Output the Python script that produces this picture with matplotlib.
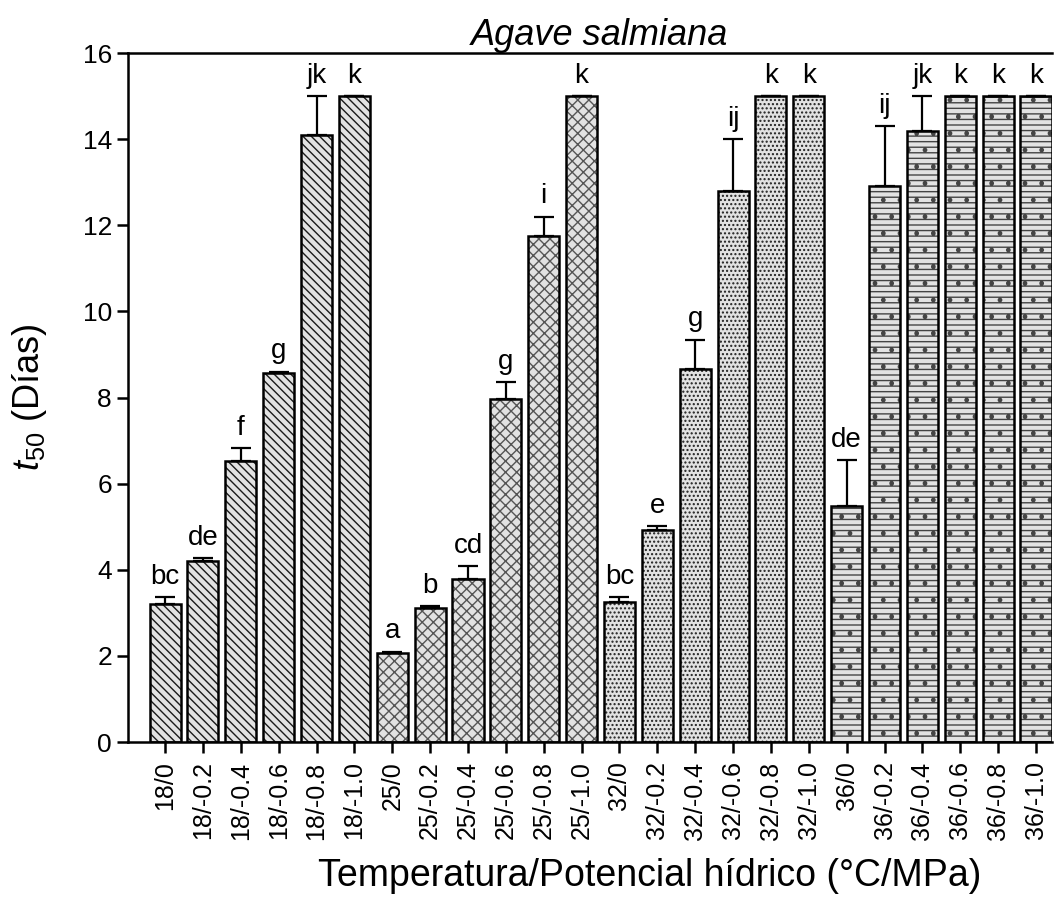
import numpy as np
import matplotlib
matplotlib.use("Agg")
import matplotlib.pyplot as plt

plt.rcParams["font.family"] = ["Liberation Sans", "DejaVu Sans"]
plt.rcParams["mathtext.fontset"] = "custom"
plt.rcParams["mathtext.it"] = "Liberation Sans:italic"
plt.rcParams["mathtext.rm"] = "Liberation Sans"
plt.rcParams["hatch.linewidth"] = 1.0

# t50 (days) per treatment, upper error, and Tukey letters
labels = ["18/0", "18/-0.2", "18/-0.4", "18/-0.6", "18/-0.8", "18/-1.0",
          "25/0", "25/-0.2", "25/-0.4", "25/-0.6", "25/-0.8", "25/-1.0",
          "32/0", "32/-0.2", "32/-0.4", "32/-0.6", "32/-0.8", "32/-1.0",
          "36/0", "36/-0.2", "36/-0.4", "36/-0.6", "36/-0.8", "36/-1.0"]
t50 = [3.2, 4.2, 6.52, 8.58, 14.1, 15.0,
       2.07, 3.11, 3.79, 7.96, 11.75, 15.0,
       3.25, 4.92, 8.66, 12.8, 15.0, 15.0,
       5.48, 12.9, 14.19, 15.0, 15.0, 15.0]
err = [0.17, 0.07, 0.3, 0.02, 0.9, 0.0,
       0.03, 0.05, 0.3, 0.4, 0.45, 0.0,
       0.12, 0.1, 0.68, 1.2, 0.0, 0.0,
       1.07, 1.4, 0.8, 0.0, 0.0, 0.0]
letters = ["bc", "de", "f", "g", "jk", "k",
           "a", "b", "cd", "g", "i", "k",
           "bc", "e", "g", "ij", "k", "k",
           "de", "ij", "jk", "k", "k", "k"]

group_hatch = {18: "\\\\\\\\", 25: "xxx", 32: "....", 36: "---."}
group_hcol = {18: "#1a1a1a", 25: "#555555", 32: "#202020", 36: "#444444"}

fig = plt.figure(figsize=(10.62, 9.06), dpi=100)
ax = fig.add_axes([0.1205, 0.181, 0.87, 0.7605])

x = np.arange(len(labels))
w = 0.82
for i, lab in enumerate(labels):
    t = int(lab.split("/")[0])
    # hatch layer (gray lines) then black outline on top
    ax.bar(x[i], t50[i], width=w, color="#e2e2e2", hatch=group_hatch[t],
           edgecolor=group_hcol[t], linewidth=0, zorder=2)
    ax.bar(x[i], t50[i], width=w, fill=False, edgecolor="black",
           linewidth=1.8, zorder=3)

ax.errorbar(x, t50, yerr=[np.zeros(len(err)), err], fmt="none",
            ecolor="black", elinewidth=1.6, capsize=7.5, capthick=1.6, zorder=4)

for i in range(len(labels)):
    ax.text(x[i], t50[i] + err[i] + 0.17, letters[i], ha="center", va="bottom",
            fontsize=20)

ax.set_xlim(-0.98, 23.42)
ax.set_ylim(0, 16)
ax.set_yticks(np.arange(0, 17, 2))
ax.set_xticks(x)
ax.set_xticklabels(labels, rotation=90)
ax.tick_params(axis="both", direction="out", length=8, width=1.8, labelsize=19)
ax.tick_params(axis="x", pad=6, labelsize=18)
for s in ["left", "bottom", "top"]:
    ax.spines[s].set_linewidth(1.8)
ax.spines["right"].set_visible(False)

ax.set_title("Agave salmiana", fontsize=26, style="italic", pad=2, x=0.51)
ax.set_ylabel(r"$t_{\mathit{50}}$ (Días)", fontsize=26)
ax.yaxis.set_label_coords(-0.085, 0.5)
ax.set_xlabel("Temperatura/Potencial hídrico (°C/MPa)", fontsize=27)
ax.xaxis.set_label_coords(0.5645, -0.168)

fig.savefig("out.png", dpi=100)
